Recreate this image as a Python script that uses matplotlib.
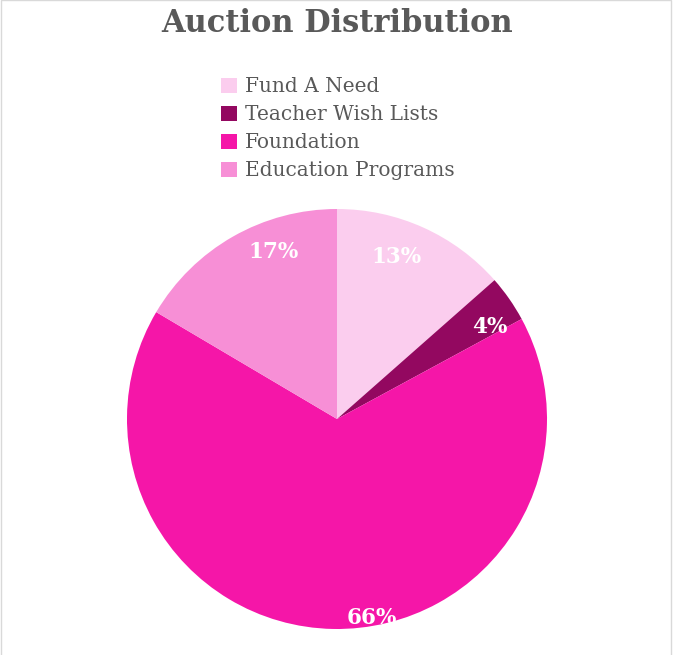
import matplotlib
matplotlib.use("Agg")
import matplotlib.pyplot as plt
from matplotlib.patches import Patch, Rectangle
import numpy as np

categories = ["Fund A Need", "Teacher Wish Lists", "Foundation", "Education Programs"]
values = [13.5, 3.6, 66.4, 16.5]
labels = ["13%", "4%", "66%", "17%"]
colors = ["#FBCDEE", "#930860", "#F516A8", "#F78FD6"]
title = "Auction Distribution"

# label placement (angle offset from wedge middle in degrees, radial fraction)
label_angle_offset = [4, -4, 11, -9]
label_radius = [0.82, 0.85, 0.96, 0.85]

W, H = 673, 655
fig = plt.figure(figsize=(W / 100, H / 100), dpi=100)
fig.patch.set_facecolor("white")

serif = ["DejaVu Serif"]

cx, cy, r = 337, 419, 210
ax = fig.add_axes([(cx - r) / W, (H - cy - r) / H, 2 * r / W, 2 * r / H])
wedges, _ = ax.pie(values, colors=colors, startangle=90, counterclock=False,
                   radius=1, wedgeprops=dict(linewidth=0))
ax.set_xlim(-1, 1)
ax.set_ylim(-1, 1)
ax.set_aspect("equal")
ax.axis("off")

for w, lab, off, rr in zip(wedges, labels, label_angle_offset, label_radius):
    mid = np.deg2rad((w.theta1 + w.theta2) / 2 + off)
    ax.text(rr * np.cos(mid), rr * np.sin(mid), lab, ha="center", va="center",
            color="white", fontsize=15.5, fontweight="bold", family=serif)

fig.text(cx / W, 1 - 23 / H, title, ha="center", va="center", fontsize=22,
         fontweight="bold", color="#595959", family=serif)

handles = [Patch(facecolor=c, edgecolor="none") for c in colors]
fig.legend(handles, categories, loc="upper left", bbox_to_anchor=(221 / W, 1 - 77.5 / H),
           frameon=False, handlelength=0.78, handleheight=0.78, handletextpad=0.42,
           labelspacing=0.44, prop=dict(family=serif, size=14.5), labelcolor="#595959",
           borderaxespad=0, borderpad=0)

fig.add_artist(Rectangle((1 / W, -0.01), (W - 3) / W, 1.0095, transform=fig.transFigure,
                         fill=False, edgecolor="#d9d9d9", linewidth=1))

fig.savefig("out.png", dpi=100)
